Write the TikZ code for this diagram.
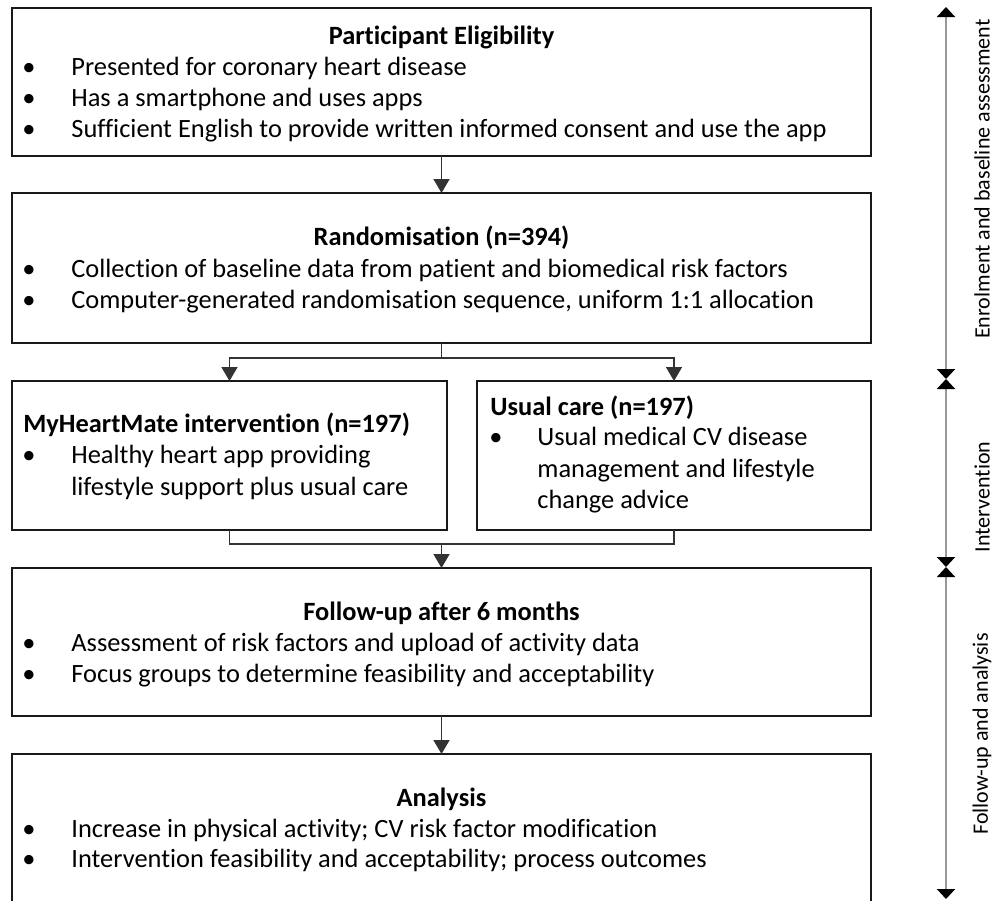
\documentclass[tikz,border=0pt]{standalone}
\usepackage{fontspec}
\setmainfont[Ligatures=NoCommon]{Carlito}
\usetikzlibrary{arrows.meta}
\begin{document}
\begin{tikzpicture}[x=0.5pt,y=-0.5pt,
  box/.style={draw=black!90,line width=1.1pt,inner sep=0pt,outer sep=0pt,anchor=north west},
  txt/.style={font=\fontsize{13.2}{15}\selectfont,inner sep=0pt,anchor=base west},
  ttl/.style={font=\fontsize{13.2}{15}\selectfont\bfseries,inner sep=0pt,anchor=base},
  ttlw/.style={font=\fontsize{13.2}{15}\selectfont\bfseries,inner sep=0pt,anchor=base west},
  bul/.style={font=\fontsize{13.2}{15}\selectfont,inner sep=0pt,anchor=base},
  conn/.style={draw=black!80,line width=0.8pt},
  arr/.style={conn,-{Triangle[width=8pt,length=7pt]}},
  tl/.style={draw=black!40,line width=1pt,{Triangle[width=9pt,length=5pt,black]}-{Triangle[width=9pt,length=5pt,black]}},
  side/.style={font=\fontsize{11}{12}\selectfont,inner sep=0pt,rotate=90}
]
\useasboundingbox (0,0) rectangle (994,900);
\clip (0,0) rectangle (994,900);

% boxes
\node[box,minimum width=429.5pt,minimum height=74pt] (b1) at (12,8) {};
\node[box,minimum width=429.5pt,minimum height=75pt] (b2) at (12,193) {};
\node[box,minimum width=217.5pt,minimum height=74.5pt] (b3) at (12,381) {};
\node[box,minimum width=197pt,minimum height=74.5pt] (b4) at (477,381) {};
\node[box,minimum width=429.5pt,minimum height=74pt] (b5) at (12,568) {};
\node[box,minimum width=429.5pt,minimum height=80pt] (b6) at (12,754) {};

% box 1
\node[ttl] (t1) at (441.5,44) {Participant Eligibility};
\node[bul] (d11) at (29,75) {•};
\node[txt] (l11) at (71,75) {Presented for coronary heart disease};
\node[bul] (d12) at (29,106) {•};
\node[txt] (l12) at (71,106) {Has a smartphone and uses apps};
\node[bul] (d13) at (29,137) {•};
\node[txt] (l13) at (71,137) {Sufficient English to provide written informed consent and use the app};

% box 2
\node[ttl] (t2) at (441.5,245) {Randomisation (n=394)};
\node[bul] (d21) at (29,277) {•};
\node[txt] (l21) at (71,277) {Collection of baseline data from patient and biomedical risk factors};
\node[bul] (d22) at (29,308) {•};
\node[txt] (l22) at (71,308) {Computer-generated randomisation sequence, uniform 1:1 allocation};

% box 3
\node[ttlw] (t3) at (23,432) {MyHeartMate intervention (n=197)};
\node[bul] (d31) at (29,463) {•};
\node[txt] (l31) at (71,463) {Healthy heart app providing};
\node[txt] (l32) at (71,495) {lifestyle support plus usual care};

% box 4
\node[ttlw] (t4) at (490,415) {Usual care (n=197)};
\node[bul] (d41) at (496,445) {•};
\node[txt] (l41) at (537,445) {Usual medical CV disease};
\node[txt] (l42) at (537,477) {management and lifestyle};
\node[txt] (l43) at (537,508) {change advice};

% box 5
\node[ttl] (t5) at (441.5,620) {Follow-up after 6 months};
\node[bul] (d51) at (29,651) {•};
\node[txt] (l51) at (71,651) {Assessment of risk factors and upload of activity data};
\node[bul] (d52) at (29,682) {•};
\node[txt] (l52) at (71,682) {Focus groups to determine feasibility and acceptability};

% box 6
\node[ttl] (t6) at (441.5,806) {Analysis};
\node[bul] (d61) at (29,837) {•};
\node[txt] (l61) at (71,837) {Increase in physical activity; CV risk factor modification};
\node[bul] (d62) at (29,867) {•};
\node[txt] (l62) at (71,867) {Intervention feasibility and acceptability; process outcomes};

% connectors
\draw[arr] (b1.south) -- (b2.north);
\coordinate (fork) at (441.5,358);
\draw[conn] (b2.south) -- (fork);
\draw[arr] (fork) -| (b3.north);
\draw[arr] (fork) -| (b4.north);
\coordinate (merge) at (441.5,544);
\draw[conn] (b3.south) |- (merge);
\draw[conn] (b4.south) |- (merge);
\draw[arr] (merge) -- (b5.north);
\draw[arr] (b5.south) -- (b6.north);

% timeline
\coordinate (p0) at (946,7);
\coordinate (p1) at (946,379);
\coordinate (p2) at (946,567);
\coordinate (p3) at (946,899);
\draw[tl] (p0) -- (p1);
\draw[tl] (p1) -- (p2);
\draw[tl] (p2) -- (p3);
\node[side] (s1) at (982,179) {Enrolment and baseline assessment};
\node[side] (s2) at (982,497) {Intervention};
\node[side] (s3) at (982,734) {Follow-up and analysis};
\end{tikzpicture}
\end{document}
